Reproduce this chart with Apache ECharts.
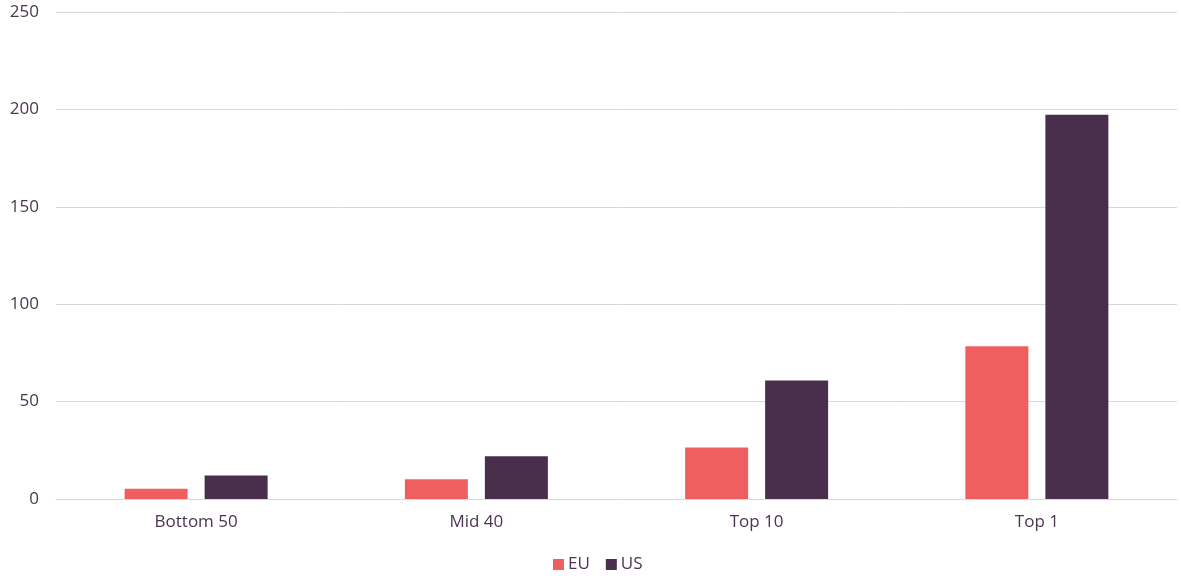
<!DOCTYPE html>
<html><head><meta charset="utf-8">
<script src="https://cdn.jsdelivr.net/npm/echarts@6/dist/echarts.min.js"></script>
<style>html,body{margin:0;padding:0;background:#fff}#c{width:1181px;height:576px}</style>
</head><body><div id="c"></div>
<script>
var categories = ['Bottom 50', 'Mid 40', 'Top 10', 'Top 1'];
var euValues = [5.3, 10.2, 26.4, 78.4];
var usValues = [12.0, 22.0, 60.8, 197.3];
var yTicks = [0, 50, 100, 150, 200, 250];

var textColor = '#4b3550';
var font = 'Open Sans';
var chart = echarts.init(document.getElementById('c'));
chart.setOption({
  animation: false,
  grid: { left: 56, right: 4, top: 12, bottom: 77, containLabel: false },
  legend: {
    top: 556, left: 553, itemWidth: 11, itemHeight: 11, itemGap: 16,
    icon: 'rect', padding: 0,
    textStyle: { color: textColor, fontFamily: font, fontSize: 17, lineHeight: 16, padding: [0, 0, 0, -1] },
    data: ['EU', 'US']
  },
  xAxis: {
    type: 'category', data: categories,
    axisLine: { lineStyle: { color: '#d9d9d9', width: 1 } },
    axisTick: { show: false },
    axisLabel: { color: textColor, fontFamily: font, fontSize: 17, margin: 15 }
  },
  yAxis: {
    type: 'value', min: yTicks[0], max: yTicks[yTicks.length - 1], interval: 50,
    axisLine: { show: false }, axisTick: { show: false },
    splitLine: { lineStyle: { color: '#d9d9d9', width: 1 } },
    axisLabel: { color: textColor, fontFamily: font, fontSize: 17, margin: 17 }
  },
  series: [
    { name: 'EU', type: 'bar', data: euValues, barWidth: 63, barGap: '27%',
      itemStyle: { color: '#f05f5f' } },
    { name: 'US', type: 'bar', data: usValues, barWidth: 63,
      itemStyle: { color: '#4a2f4c' } }
  ]
});
</script></body></html>
